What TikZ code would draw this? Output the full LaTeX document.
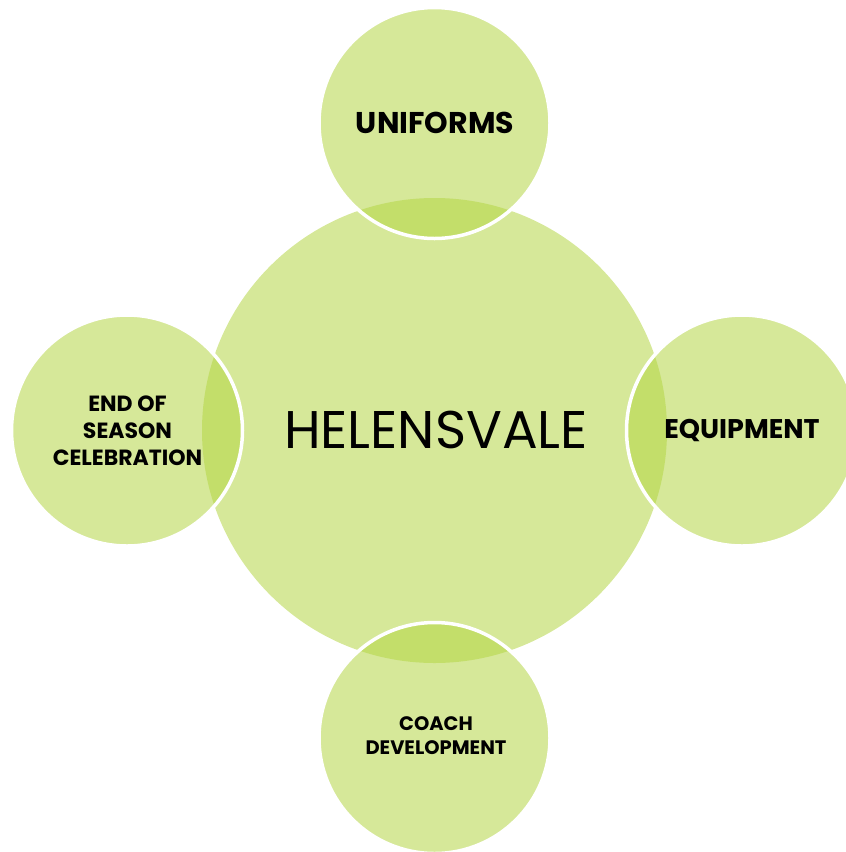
\documentclass[tikz,border=0pt]{standalone}
\usepackage{fontspec}
\setmainfont{Poppins}
\definecolor{lightg}{RGB}{214,232,153}
\definecolor{darkg}{RGB}{195,222,106}
\tikzset{
  satlabel/.style 2 args={font=\bfseries\fontsize{#1}{#2}\selectfont, align=center, text=black, inner sep=0pt}
}
\begin{document}
\begin{tikzpicture}[x=1pt,y=-1pt]
\useasboundingbox (0,0) rectangle (846,852);
\clip (0,0) rectangle (846,852);
% central circle
\fill[lightg] (434.5,430.5) circle (232.5);
% satellites
\foreach \cx/\cy in {434.5/123, 742/430.5, 434.5/738, 127/430.5}{
  \fill[lightg] (\cx,\cy) circle (115.5);
  \begin{scope}
    \clip (434.5,430.5) circle (232.5);
    \fill[darkg] (\cx,\cy) circle (115.5);
  \end{scope}
  \draw[white, line width=3.5pt] (\cx,\cy) circle (115.5);
}
\node[font=\fontsize{53}{53}\selectfont, text=black, inner sep=0pt] (c) at (436,430) {HELENSVALE};
\node[satlabel={30}{30}] (u) at (435,123) {UNIFORMS};
\node[satlabel={27}{27}] (e) at (742,431) {EQUIPMENT};
\node[satlabel={22}{27}] (l) at (127.5,431) {END OF\\SEASON\\CELEBRATION};
\node[satlabel={19.5}{24}] (b) at (436,736) {COACH\\DEVELOPMENT};
\end{tikzpicture}
\end{document}
